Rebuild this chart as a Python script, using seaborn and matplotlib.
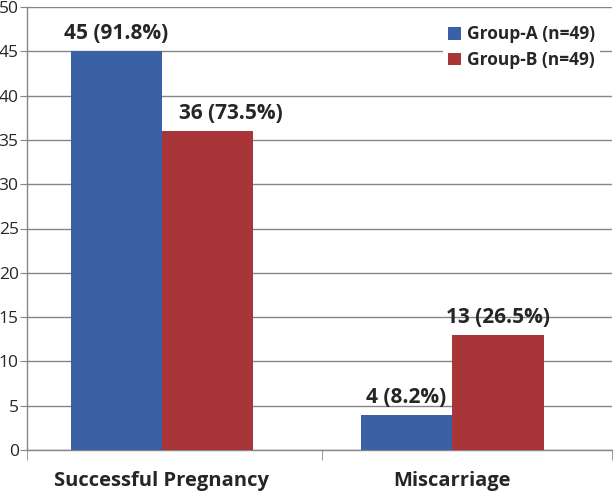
import matplotlib
matplotlib.use("Agg")
import matplotlib.pyplot as plt
import seaborn as sns
import pandas as pd

outcomes = ["Successful Pregnancy", "Miscarriage"]
groups = ["Group-A (n=49)", "Group-B (n=49)"]
group_a = [45, 4]
group_b = [36, 13]
labels_a = ["45 (91.8%)", "4 (8.2%)"]
labels_b = ["36 (73.5%)", "13 (26.5%)"]
colors = ["#3A60A6", "#A83537"]

df = pd.DataFrame({
    "outcome": outcomes * 2,
    "group": [groups[0]] * 2 + [groups[1]] * 2,
    "count": group_a + group_b,
})

sns.set_style("white")
plt.rcParams["font.family"] = ["Open Sans", "DejaVu Sans"]

fig = plt.figure(figsize=(6.14, 4.95), dpi=100)
ax = fig.add_axes([27 / 614, 45 / 495, 585 / 614, 443 / 495])

sns.barplot(data=df, x="outcome", y="count", hue="group", order=outcomes,
            hue_order=groups, palette=colors, width=0.63, saturation=1,
            linewidth=0, ax=ax, zorder=3)

anns = []
for cont, labs in zip(ax.containers, [labels_a, labels_b]):
    anns.append(ax.bar_label(cont, labels=labs, padding=5, fontsize=15,
                             fontweight="bold"))
# the 36 label sits a bit to the right in the original
anns[1][0].xyann = (17, 5)

ax.set_ylim(0, 50)
ax.set_yticks(range(0, 51, 5))
ax.set_xlim(-0.465, 1.55)
ax.grid(axis="y", color="#868686", linewidth=1, zorder=0)
ax.set_axisbelow(True)

for s in ["top", "right"]:
    ax.spines[s].set_visible(False)
for s in ["left", "bottom"]:
    ax.spines[s].set_color("#868686")
    ax.spines[s].set_linewidth(1)

ax.tick_params(axis="y", length=5, color="#868686", labelsize=12.5, pad=1, left=True)
ax.tick_params(axis="x", which="major", length=0, labelsize=14.5, pad=15)
ax.set_xticks([-0.465, 0.55, 1.55], minor=True)
ax.tick_params(axis="x", which="minor", length=7, color="#868686", bottom=True)
for t in ax.get_xticklabels():
    t.set_fontweight("bold")
ax.set_xlabel("")
ax.set_ylabel("")

leg = ax.legend(loc="upper right", bbox_to_anchor=(0.995, 0.99), frameon=True,
                fontsize=12.5, handlelength=0.75, handleheight=0.75,
                handletextpad=0.35, labelspacing=0.45, borderpad=0.3)
leg.get_frame().set_facecolor("white")
leg.get_frame().set_edgecolor("none")
leg.get_frame().set_alpha(1)
for t in leg.get_texts():
    t.set_fontweight("bold")

fig.savefig("out.png", dpi=100)
